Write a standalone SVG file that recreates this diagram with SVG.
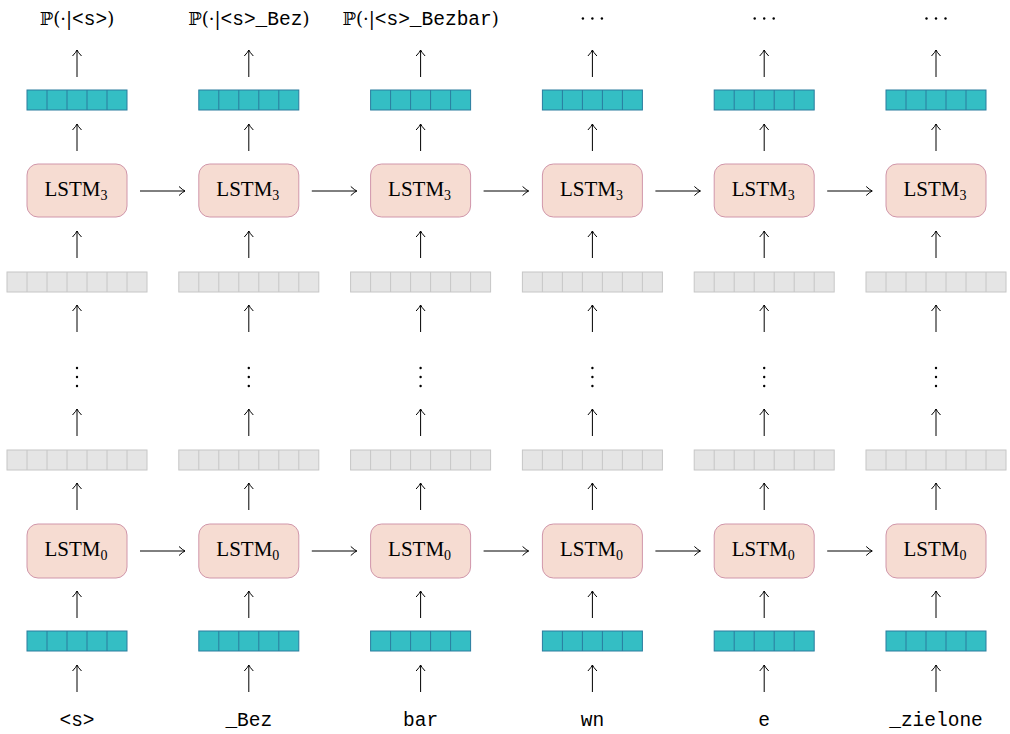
<svg xmlns="http://www.w3.org/2000/svg" width="1010" height="734" viewBox="0 0 1010 734">
  <defs>
    <style>
      .lstm { fill: #F6DCD2; stroke: #D096AA; stroke-width: 1; }
      .emb { fill: #34BEC4; stroke: #2A7C9E; stroke-width: 1; }
      .hid { fill: #E5E5E5; stroke: #C6C6C6; stroke-width: 1; }
      .arr { stroke: #000; stroke-width: 1; fill: none; marker-end: url(#tip); }
      .lbl { font-family: "Liberation Serif", serif; font-size: 21px; fill: #000; text-anchor: middle; }
      .tt { font-family: "Liberation Mono", monospace; font-size: 19.5px; fill: #000; text-anchor: middle; }
      .math { font-family: "DejaVu Serif", "Liberation Serif", serif; font-size: 18px; }
      .dot { fill: #000; }
    </style>
    <marker id="tip" markerWidth="12" markerHeight="12" viewBox="-7 -6 9 12" refX="0" refY="0" orient="auto" markerUnits="userSpaceOnUse">
      <path d="M -6 -4.5 Q -2 -0.8 0 0 Q -2 0.8 -6 4.5" fill="none" stroke="#000" stroke-width="1"/>
    </marker>
    <!-- five-cell embedding / output vector -->
    <g id="vec5">
      <rect class="emb" x="-50" y="0" width="100" height="20"/>
      <path d="M -30 0 V 20 M -10 0 V 20 M 10 0 V 20 M 30 0 V 20" stroke="#2A7C9E" stroke-width="1"/>
    </g>
    <!-- seven-cell hidden state vector -->
    <g id="vec7">
      <rect class="hid" x="-70" y="0" width="140" height="20"/>
      <path d="M -50 0 V 20 M -30 0 V 20 M -10 0 V 20 M 10 0 V 20 M 30 0 V 20 M 50 0 V 20" stroke="#C6C6C6" stroke-width="1"/>
    </g>
    <g id="vdots">
      <circle class="dot" cx="0" cy="368" r="1.2"/>
      <circle class="dot" cx="0" cy="377" r="1.2"/>
      <circle class="dot" cx="0" cy="386" r="1.2"/>
    </g>
    <g id="hdots">
      <circle class="dot" cx="-9.5" cy="18.5" r="1.2"/>
      <circle class="dot" cx="0" cy="18.5" r="1.2"/>
      <circle class="dot" cx="9.5" cy="18.5" r="1.2"/>
    </g>
  </defs>

  <rect width="1010" height="734" fill="#fff"/>

  <!-- column 0 -->
  <g id="col0" transform="translate(77,0)">
    <g id="out0"><text class="tt" x="0" y="25"><tspan class="math">ℙ(·|</tspan>&lt;s&gt;<tspan class="math">)</tspan></text></g>
    <g id="y0"><use href="#vec5" y="90"/></g>
    <g id="top0"><rect class="lstm" x="-50" y="164" width="100" height="53" rx="11"/><text class="lbl" x="-1" y="196">LSTM<tspan font-size="14" dy="4">3</tspan></text></g>
    <g id="h2_0"><use href="#vec7" y="272"/></g>
    <g id="dots0"><use href="#vdots"/></g>
    <g id="h0_0"><use href="#vec7" y="450"/></g>
    <g id="bot0"><rect class="lstm" x="-50" y="524" width="100" height="54" rx="11"/><text class="lbl" x="-1" y="556">LSTM<tspan font-size="14" dy="4">0</tspan></text></g>
    <g id="x0"><use href="#vec5" y="631"/></g>
    <g id="tok0"><text class="tt" x="0" y="726">&lt;s&gt;</text></g>
  </g>

  <!-- column 1 -->
  <g id="col1" transform="translate(248.8,0)">
    <g id="out1"><text class="tt" x="0" y="25"><tspan class="math">ℙ(·|</tspan>&lt;s&gt;_Bez<tspan class="math">)</tspan></text></g>
    <g id="y1"><use href="#vec5" y="90"/></g>
    <g id="top1"><rect class="lstm" x="-50" y="164" width="100" height="53" rx="11"/><text class="lbl" x="-1" y="196">LSTM<tspan font-size="14" dy="4">3</tspan></text></g>
    <g id="h2_1"><use href="#vec7" y="272"/></g>
    <g id="dots1"><use href="#vdots"/></g>
    <g id="h0_1"><use href="#vec7" y="450"/></g>
    <g id="bot1"><rect class="lstm" x="-50" y="524" width="100" height="54" rx="11"/><text class="lbl" x="-1" y="556">LSTM<tspan font-size="14" dy="4">0</tspan></text></g>
    <g id="x1"><use href="#vec5" y="631"/></g>
    <g id="tok1"><text class="tt" x="0" y="726">_Bez</text></g>
  </g>

  <!-- column 2 -->
  <g id="col2" transform="translate(420.6,0)">
    <g id="out2"><text class="tt" x="0" y="25"><tspan class="math">ℙ(·|</tspan>&lt;s&gt;_Bezbar<tspan class="math">)</tspan></text></g>
    <g id="y2"><use href="#vec5" y="90"/></g>
    <g id="top2"><rect class="lstm" x="-50" y="164" width="100" height="53" rx="11"/><text class="lbl" x="-1" y="196">LSTM<tspan font-size="14" dy="4">3</tspan></text></g>
    <g id="h2_2"><use href="#vec7" y="272"/></g>
    <g id="dots2"><use href="#vdots"/></g>
    <g id="h0_2"><use href="#vec7" y="450"/></g>
    <g id="bot2"><rect class="lstm" x="-50" y="524" width="100" height="54" rx="11"/><text class="lbl" x="-1" y="556">LSTM<tspan font-size="14" dy="4">0</tspan></text></g>
    <g id="x2"><use href="#vec5" y="631"/></g>
    <g id="tok2"><text class="tt" x="0" y="726">bar</text></g>
  </g>

  <!-- column 3 -->
  <g id="col3" transform="translate(592.4,0)">
    <g id="out3"><use href="#hdots"/></g>
    <g id="y3"><use href="#vec5" y="90"/></g>
    <g id="top3"><rect class="lstm" x="-50" y="164" width="100" height="53" rx="11"/><text class="lbl" x="-1" y="196">LSTM<tspan font-size="14" dy="4">3</tspan></text></g>
    <g id="h2_3"><use href="#vec7" y="272"/></g>
    <g id="dots3"><use href="#vdots"/></g>
    <g id="h0_3"><use href="#vec7" y="450"/></g>
    <g id="bot3"><rect class="lstm" x="-50" y="524" width="100" height="54" rx="11"/><text class="lbl" x="-1" y="556">LSTM<tspan font-size="14" dy="4">0</tspan></text></g>
    <g id="x3"><use href="#vec5" y="631"/></g>
    <g id="tok3"><text class="tt" x="0" y="726">wn</text></g>
  </g>

  <!-- column 4 -->
  <g id="col4" transform="translate(764.2,0)">
    <g id="out4"><use href="#hdots"/></g>
    <g id="y4"><use href="#vec5" y="90"/></g>
    <g id="top4"><rect class="lstm" x="-50" y="164" width="100" height="53" rx="11"/><text class="lbl" x="-1" y="196">LSTM<tspan font-size="14" dy="4">3</tspan></text></g>
    <g id="h2_4"><use href="#vec7" y="272"/></g>
    <g id="dots4"><use href="#vdots"/></g>
    <g id="h0_4"><use href="#vec7" y="450"/></g>
    <g id="bot4"><rect class="lstm" x="-50" y="524" width="100" height="54" rx="11"/><text class="lbl" x="-1" y="556">LSTM<tspan font-size="14" dy="4">0</tspan></text></g>
    <g id="x4"><use href="#vec5" y="631"/></g>
    <g id="tok4"><text class="tt" x="0" y="726">e</text></g>
  </g>

  <!-- column 5 -->
  <g id="col5" transform="translate(936,0)">
    <g id="out5"><use href="#hdots"/></g>
    <g id="y5"><use href="#vec5" y="90"/></g>
    <g id="top5"><rect class="lstm" x="-50" y="164" width="100" height="53" rx="11"/><text class="lbl" x="-1" y="196">LSTM<tspan font-size="14" dy="4">3</tspan></text></g>
    <g id="h2_5"><use href="#vec7" y="272"/></g>
    <g id="dots5"><use href="#vdots"/></g>
    <g id="h0_5"><use href="#vec7" y="450"/></g>
    <g id="bot5"><rect class="lstm" x="-50" y="524" width="100" height="54" rx="11"/><text class="lbl" x="-1" y="556">LSTM<tspan font-size="14" dy="4">0</tspan></text></g>
    <g id="x5"><use href="#vec5" y="631"/></g>
    <g id="tok5"><text class="tt" x="0" y="726">_zielone</text></g>
  </g>

  <!-- connectors -->
  <g id="connectors">
    <!-- vertical flow, one path set per column -->
    <g id="vert">
      <path class="arr" d="M 77 77 V 50"/>
      <path class="arr" d="M 77 151 V 124"/>
      <path class="arr" d="M 77 258 V 231"/>
      <path class="arr" d="M 77 332 V 305"/>
      <path class="arr" d="M 77 436 V 409"/>
      <path class="arr" d="M 77 510 V 483"/>
      <path class="arr" d="M 77 618 V 591"/>
      <path class="arr" d="M 77 692 V 665"/>

      <path class="arr" d="M 248.8 77 V 50"/>
      <path class="arr" d="M 248.8 151 V 124"/>
      <path class="arr" d="M 248.8 258 V 231"/>
      <path class="arr" d="M 248.8 332 V 305"/>
      <path class="arr" d="M 248.8 436 V 409"/>
      <path class="arr" d="M 248.8 510 V 483"/>
      <path class="arr" d="M 248.8 618 V 591"/>
      <path class="arr" d="M 248.8 692 V 665"/>

      <path class="arr" d="M 420.6 77 V 50"/>
      <path class="arr" d="M 420.6 151 V 124"/>
      <path class="arr" d="M 420.6 258 V 231"/>
      <path class="arr" d="M 420.6 332 V 305"/>
      <path class="arr" d="M 420.6 436 V 409"/>
      <path class="arr" d="M 420.6 510 V 483"/>
      <path class="arr" d="M 420.6 618 V 591"/>
      <path class="arr" d="M 420.6 692 V 665"/>

      <path class="arr" d="M 592.4 77 V 50"/>
      <path class="arr" d="M 592.4 151 V 124"/>
      <path class="arr" d="M 592.4 258 V 231"/>
      <path class="arr" d="M 592.4 332 V 305"/>
      <path class="arr" d="M 592.4 436 V 409"/>
      <path class="arr" d="M 592.4 510 V 483"/>
      <path class="arr" d="M 592.4 618 V 591"/>
      <path class="arr" d="M 592.4 692 V 665"/>

      <path class="arr" d="M 764.2 77 V 50"/>
      <path class="arr" d="M 764.2 151 V 124"/>
      <path class="arr" d="M 764.2 258 V 231"/>
      <path class="arr" d="M 764.2 332 V 305"/>
      <path class="arr" d="M 764.2 436 V 409"/>
      <path class="arr" d="M 764.2 510 V 483"/>
      <path class="arr" d="M 764.2 618 V 591"/>
      <path class="arr" d="M 764.2 692 V 665"/>

      <path class="arr" d="M 936 77 V 50"/>
      <path class="arr" d="M 936 151 V 124"/>
      <path class="arr" d="M 936 258 V 231"/>
      <path class="arr" d="M 936 332 V 305"/>
      <path class="arr" d="M 936 436 V 409"/>
      <path class="arr" d="M 936 510 V 483"/>
      <path class="arr" d="M 936 618 V 591"/>
      <path class="arr" d="M 936 692 V 665"/>
    </g>
    <!-- recurrent links between time steps -->
    <g id="horiz">
      <path class="arr" d="M 140 191 H 185"/>
      <path class="arr" d="M 311.8 191 H 356.8"/>
      <path class="arr" d="M 483.6 191 H 528.6"/>
      <path class="arr" d="M 655.4 191 H 700.4"/>
      <path class="arr" d="M 827.2 191 H 872.2"/>

      <path class="arr" d="M 140 551 H 185"/>
      <path class="arr" d="M 311.8 551 H 356.8"/>
      <path class="arr" d="M 483.6 551 H 528.6"/>
      <path class="arr" d="M 655.4 551 H 700.4"/>
      <path class="arr" d="M 827.2 551 H 872.2"/>
    </g>
  </g>
</svg>
